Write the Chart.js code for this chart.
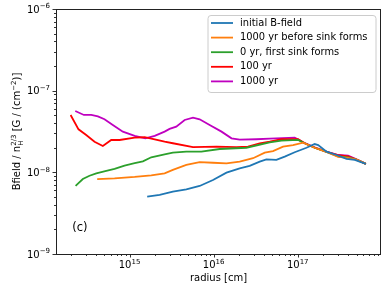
<!DOCTYPE html>
<html>
<head>
<meta charset="utf-8">
<script src="https://cdn.jsdelivr.net/npm/chart.js@4.4.1/dist/chart.umd.min.js"></script>
<style>
  html, body { margin: 0; padding: 0; background: #fff; }
  #wrap { width: 390px; height: 293px; }
</style>
</head>
<body>
<div id="wrap"><canvas id="bfieldChart" width="390" height="293"></canvas></div>
<script>
// values (radius in cm, Bfield / n_H^(2/3))
const initialR = [1.62e15, 2.28e15, 3.27e15, 4.73e15, 6.81e15, 9.82e15, 1.42e16, 2.04e16, 2.68e16, 3.53e16, 4.24e16, 5.57e16, 7.0e16, 9.2e16, 1.27e17, 1.59e17, 1.75e17, 2.2e17, 2.89e17, 3.8e17, 4.77e17, 6.46e17];
const initialB = [5.04e-9, 5.28e-9, 5.8e-9, 6.2e-9, 6.81e-9, 8.06e-9, 9.9e-9, 1.12e-8, 1.2e-8, 1.35e-8, 1.44e-8, 1.42e-8, 1.56e-8, 1.76e-8, 2.0e-8, 2.22e-8, 2.16e-8, 1.79e-8, 1.63e-8, 1.46e-8, 1.42e-8, 1.27e-8];

const beforeR = [4.12e14, 6.63e14, 1.15e15, 1.81e15, 2.61e15, 3.27e15, 4.73e15, 6.81e15, 9.82e15, 1.42e16, 2.04e16, 2.94e16, 4.05e16, 5.08e16, 6.68e16, 8.79e16, 1.16e17, 1.59e17, 2.2e17, 3.02e17, 3.97e17, 5.0e17, 6.46e17];
const beforeB = [8.28e-9, 8.45e-9, 8.78e-9, 9.2e-9, 9.73e-9, 1.07e-8, 1.23e-8, 1.33e-8, 1.31e-8, 1.29e-8, 1.35e-8, 1.49e-8, 1.74e-8, 1.82e-8, 2.06e-8, 2.16e-8, 2.31e-8, 2.0e-8, 1.78e-8, 1.55e-8, 1.5e-8, 1.43e-8, 1.27e-8];

const sinkR = [2.28e14, 2.78e14, 3.34e14, 4.02e14, 5.28e14, 6.63e14, 8.71e14, 1.15e15, 1.44e15, 1.81e15, 2.61e15, 3.27e15, 4.73e15, 7.14e15, 1.18e16, 2.45e16, 4.64e16, 6.4e16, 1.01e17, 1.21e17, 1.59e17, 2.2e17, 3.02e17, 3.97e17, 5.0e17, 6.46e17];
const sinkB = [6.81e-9, 8.28e-9, 9.09e-9, 9.73e-9, 1.04e-8, 1.1e-8, 1.21e-8, 1.3e-8, 1.36e-8, 1.53e-8, 1.66e-8, 1.74e-8, 1.79e-8, 1.79e-8, 1.93e-8, 2.0e-8, 2.33e-8, 2.45e-8, 2.5e-8, 2.27e-8, 2.0e-8, 1.78e-8, 1.57e-8, 1.52e-8, 1.43e-8, 1.27e-8];

const yr100R = [1.99e14, 2.47e14, 3.05e14, 3.83e14, 4.81e14, 6.05e14, 7.6e14, 1.15e15, 1.51e15, 1.99e15, 2.61e15, 3.27e15, 5.68e15, 1.08e16, 1.86e16, 2.56e16, 3.53e16, 4.64e16, 6.4e16, 1.01e17, 1.21e17, 1.59e17, 2.2e17, 3.02e17, 3.97e17, 5.0e17, 6.46e17];
const yr100B = [5.04e-8, 3.36e-8, 2.87e-8, 2.37e-8, 2.1e-8, 2.49e-8, 2.49e-8, 2.66e-8, 2.69e-8, 2.54e-8, 2.37e-8, 2.27e-8, 2.03e-8, 2.06e-8, 2.03e-8, 2.06e-8, 2.27e-8, 2.37e-8, 2.54e-8, 2.54e-8, 2.27e-8, 2.0e-8, 1.78e-8, 1.62e-8, 1.57e-8, 1.43e-8, 1.27e-8];

const yr1000R = [2.26e14, 2.86e14, 3.5e14, 4.2e14, 5.03e14, 6.32e14, 8.32e14, 1.15e15, 1.54e15, 1.99e15, 2.61e15, 2.99e15, 3.59e15, 4.52e15, 5.68e15, 6.81e15, 8.96e15, 1.24e16, 1.63e16, 2.04e16, 3.22e16, 4.64e16, 9.2e16, 1.16e17, 1.59e17, 2.2e17, 3.02e17, 3.97e17, 5.0e17, 6.46e17];
const yr1000B = [5.64e-8, 5.04e-8, 5.04e-8, 4.85e-8, 4.46e-8, 3.8e-8, 3.15e-8, 2.79e-8, 2.61e-8, 2.79e-8, 3.15e-8, 3.4e-8, 3.62e-8, 4.38e-8, 4.67e-8, 4.46e-8, 3.8e-8, 3.15e-8, 2.61e-8, 2.51e-8, 2.54e-8, 2.58e-8, 2.66e-8, 2.33e-8, 2.03e-8, 1.79e-8, 1.63e-8, 1.6e-8, 1.44e-8, 1.27e-8];

const seriesLabels = ['initial B-field', '1000 yr before sink forms', '0 yr, first sink forms', '100 yr', '1000 yr'];
const seriesColors = ['#1f77b4', '#ff7f0e', '#2ca02c', '#ff0000', '#bf00bf'];
const seriesR = [initialR, beforeR, sinkR, yr100R, yr1000R];
const seriesB = [initialB, beforeB, sinkB, yr100B, yr1000B];

const xMin = Math.pow(10, 14.125), xMax = Math.pow(10, 17.99);
const yMin = 1e-9, yMax = 1e-6;
const FONT = '"DejaVu Sans", sans-serif';

// "10" with a superscript exponent
function drawPower(ctx, exp, x, y, align) {
  ctx.font = '10px ' + FONT;
  const wb = ctx.measureText('10').width;
  ctx.font = '7px ' + FONT;
  const we = ctx.measureText(exp).width;
  const total = wb + we;
  let x0 = x;
  if (align === 'center') x0 = x - total / 2;
  else if (align === 'right') x0 = x - total;
  ctx.textAlign = 'left';
  ctx.font = '10px ' + FONT;
  ctx.fillText('10', x0, y);
  ctx.font = '7px ' + FONT;
  ctx.fillText(exp, x0 + wb, y - 4.5);
}

const axesPlugin = {
  id: 'axesDecor',
  afterDraw(chart) {
    const ctx = chart.ctx;
    const a = chart.chartArea;
    const xs = chart.scales.x, ys = chart.scales.y;
    ctx.save();
    ctx.fillStyle = '#000';
    ctx.strokeStyle = '#000';
    ctx.lineWidth = 0.8;

    // ticks on the log axes
    ctx.beginPath();
    for (let e = 14; e <= 17; e++) {
      for (let m = 1; m <= 9; m++) {
        const v = m * Math.pow(10, e);
        if (v < xs.min || v > xs.max) continue;
        const px = Math.round(xs.getPixelForValue(v)) + 0.5;
        const len = m === 1 ? 3.5 : 2;
        ctx.moveTo(px, a.bottom);
        ctx.lineTo(px, a.bottom + len);
      }
    }
    for (let e = -9; e <= -6; e++) {
      for (let m = 1; m <= 9; m++) {
        const v = m * Math.pow(10, e);
        if (v < ys.min * 0.999 || v > ys.max * 1.001) continue;
        const py = Math.round(ys.getPixelForValue(v)) + 0.5;
        const len = m === 1 ? 3.5 : 2;
        ctx.moveTo(a.left, py);
        ctx.lineTo(a.left - len, py);
      }
    }
    ctx.stroke();

    // tick labels
    ctx.textBaseline = 'alphabetic';
    [15, 16, 17].forEach(e => {
      const px = xs.getPixelForValue(Math.pow(10, e));
      drawPower(ctx, String(e), px, a.bottom + 14, 'center');
    });
    [-9, -8, -7, -6].forEach(e => {
      const py = ys.getPixelForValue(Math.pow(10, e));
      drawPower(ctx, '\u2212' + Math.abs(e), a.left - 6, py + 3.8, 'right');
    });

    // frame
    ctx.lineWidth = 1;
    ctx.strokeStyle = '#222';
    ctx.strokeRect(a.left + 0.5, a.top + 0.5, a.width - 1, a.height);

    // x title
    ctx.font = '10px ' + FONT;
    ctx.textAlign = 'center';
    ctx.fillText('radius [cm]', (a.left + a.right) / 2, a.bottom + 26.5);

    // y title with sub/superscripts
    ctx.save();
    ctx.translate(20, (a.top + a.bottom) / 2);
    ctx.rotate(-Math.PI / 2);
    const parts = [
      { t: 'Bfield / n', size: 10, dy: 0 },
      { t: '2/3', size: 7, dy: -4.5, stackSub: 'H' },
      { t: ' [G / (cm', size: 10, dy: 0 },
      { t: '\u22122', size: 7, dy: -4.5 },
      { t: ')]', size: 10, dy: 0 }
    ];
    let total = 0;
    parts.forEach(p => {
      ctx.font = p.size + 'px ' + FONT;
      p.w = ctx.measureText(p.t).width;
      if (p.stackSub) p.w = Math.max(p.w, ctx.measureText(p.stackSub).width);
      total += p.w;
    });
    let cx = -total / 2;
    ctx.textAlign = 'left';
    parts.forEach(p => {
      ctx.font = p.size + 'px ' + FONT;
      ctx.fillText(p.t, cx, p.dy);
      if (p.stackSub) ctx.fillText(p.stackSub, cx, 2.5);
      cx += p.w;
    });
    ctx.restore();

    // panel tag
    ctx.font = '11.5px ' + FONT;
    ctx.textAlign = 'left';
    ctx.fillText('(c)', a.left + 0.05 * a.width, a.bottom - 0.1 * a.height + 1);

    // legend in upper right
    const bx = a.right - 5.5, by = a.top + 6;
    const bw = 168, bh = 77;
    ctx.beginPath();
    ctx.roundRect(bx - bw + 0.5, by + 0.5, bw, bh, 3);
    ctx.fillStyle = 'rgba(255,255,255,0.8)';
    ctx.fill();
    ctx.strokeStyle = '#cccccc';
    ctx.lineWidth = 1;
    ctx.stroke();
    ctx.font = '9.9px ' + FONT;
    ctx.textBaseline = 'middle';
    seriesLabels.forEach((lab, i) => {
      const ry = by + 8 + i * 14.6;
      ctx.strokeStyle = seriesColors[i];
      ctx.lineWidth = 1.8;
      ctx.beginPath();
      ctx.moveTo(bx - bw + 3.5, ry);
      ctx.lineTo(bx - bw + 25.5, ry);
      ctx.stroke();
      ctx.fillStyle = '#000';
      ctx.fillText(lab, bx - bw + 32.5, ry);
    });
    ctx.restore();
  }
};

const datasets = seriesLabels.map((lab, i) => ({
  label: lab,
  data: seriesR[i].map((r, k) => ({ x: r, y: seriesB[i][k] })),
  borderColor: seriesColors[i],
  backgroundColor: seriesColors[i],
  borderWidth: 1.8,
  pointRadius: 0,
  tension: 0,
  fill: false
}));

new Chart(document.getElementById('bfieldChart').getContext('2d'), {
  type: 'line',
  data: { datasets: datasets },
  options: {
    responsive: false,
    animation: false,
    events: [],
    layout: { padding: { left: 56, right: 9, top: 9, bottom: 39 } },
    scales: {
      x: { type: 'logarithmic', min: xMin, max: xMax, bounds: 'data', display: false },
      y: { type: 'logarithmic', min: yMin, max: yMax, bounds: 'data', display: false }
    },
    plugins: {
      legend: { display: false },
      tooltip: { enabled: false }
    }
  },
  plugins: [axesPlugin]
});
</script>
</body>
</html>
